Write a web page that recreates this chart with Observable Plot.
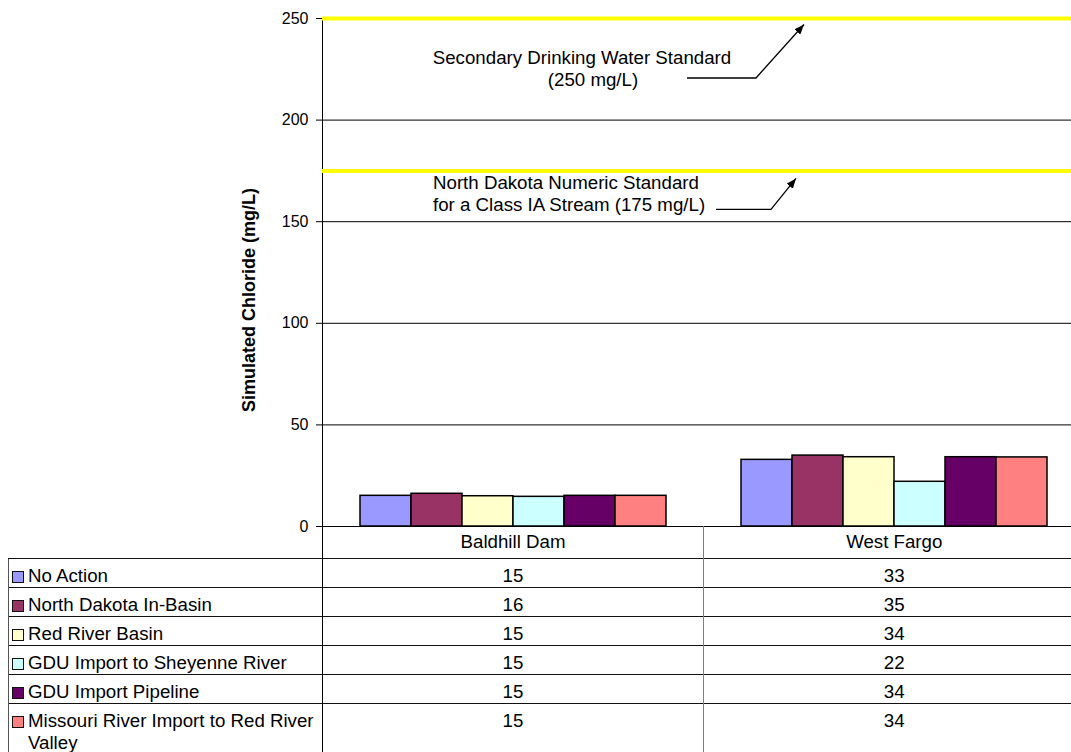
<!DOCTYPE html>
<html><head><meta charset="utf-8">
<script src="https://cdn.jsdelivr.net/npm/d3@7"></script>
<script src="https://cdn.jsdelivr.net/npm/@observablehq/plot@0.6"></script>
<style>
html,body{margin:0;padding:0;overflow:hidden;background:#fff;}
body{width:1071px;height:752px;position:relative;font-family:"Liberation Sans",Arial,sans-serif;color:#000;}
#chart{position:absolute;left:0;top:0;width:1084px;}
#chart g[aria-label^="y-axis tick label"]{font-size:16px;}
#chart g[aria-label^="y-axis tick label"] text{font-size:16px;}
#tbl{position:absolute;left:8px;top:526px;border-collapse:collapse;table-layout:fixed;width:1076px;font-size:18.7px;}
#tbl td{padding:0;line-height:22px;vertical-align:top;}
#tbl tr.head td{height:28px;padding-top:4px;text-align:center;line-height:23px;}
#tbl tr.row td{height:22px;padding-top:6px;border-top:1px solid #111;}
#tbl tr.row td.lab{border-left:1px solid #555;border-right:1px solid #000;text-align:left;}
#tbl td.v1{border-left:1px solid #000;border-right:1px solid #808080;text-align:center;}
#tbl td.v2{text-align:center;}
.lg{display:flex;align-items:flex-start;padding-left:3px;}
.sw{flex:0 0 auto;width:12px;height:12px;box-sizing:border-box;border:1px solid #111;margin-top:6px;margin-right:4px;}
</style>
</head><body>
<div id="chart"></div>
<table id="tbl"><colgroup><col style="width:314px"><col style="width:381px"><col style="width:381px"></colgroup><tbody id="tb"></tbody></table>
<script>
const categories = ["Baldhill Dam", "West Fargo"];
const series = ["No Action", "North Dakota In-Basin", "Red River Basin", "GDU Import to Sheyenne River", "GDU Import Pipeline", "Missouri River Import to Red River Valley"];
const baldhillValues = [15.1, 16.1, 14.9, 14.6, 15.1, 15.1];
const westFargoValues = [32.8, 34.9, 34.1, 22.0, 34.1, 34.0];
const seriesColors = ["#9999FF", "#993366", "#FFFFCC", "#CCFFFF", "#660066", "#FF8080"];
const yTicks = [0, 50, 100, 150, 200, 250];
const gridValues = [50, 100, 150, 200];
const standardValues = [250, 175];
const standardLabels = [["Secondary Drinking Water Standard", "(250 mg/L)"], ["North Dakota Numeric Standard", "for a Class IA Stream (175 mg/L)"]];
const yLabel = "Simulated Chloride (mg/L)";

const valuesByCategory = [baldhillValues, westFargoValues];
const data = categories.flatMap((c, i) => series.map((s, j) => ({category: c, series: s, value: valuesByCategory[i][j]})));

const chart = Plot.plot({
  width: 1084, height: 527,
  marginLeft: 322, marginRight: 0, marginTop: 18, marginBottom: 1,
  style: {fontFamily: "'Liberation Sans', Arial, sans-serif", fontSize: "16px", background: "transparent", overflow: "visible", maxWidth: "none"},
  fx: {domain: categories, padding: 0, axis: null},
  x: {domain: series, paddingInner: 0, paddingOuter: 0.735, axis: null},
  y: {domain: [0, 250], ticks: yTicks, tickSize: 6, tickPadding: 8, line: true, label: null, tickFormat: d => String(d)},
  color: {domain: series, range: seriesColors},
  marks: [
    Plot.ruleY(gridValues, {stroke: "#000", strokeWidth: 1}),
    Plot.ruleY([0], {stroke: "#000", strokeWidth: 1.2}),
    Plot.ruleY(standardValues, {stroke: "#FFFF00", strokeWidth: 4}),
    Plot.barY(data, {fx: "category", x: "series", y: "value", fill: "series", stroke: "#000", strokeWidth: 1.5, inset: 0})
  ]
});
document.getElementById("chart").appendChild(chart);
d3.select(chart).selectAll('g[aria-label^="y-axis tick label"]').attr("font-size", 16)
  .selectAll("text").attr("font-size", 16);

// annotations
const svg = d3.select(chart);
const ys = chart.scale("y");
const defs = svg.append("defs");
defs.append("marker").attr("id", "ah").attr("viewBox", "0 0 10 8").attr("refX", 10).attr("refY", 4)
  .attr("markerWidth", 10).attr("markerHeight", 8).attr("markerUnits", "userSpaceOnUse").attr("orient", "auto")
  .append("path").attr("d", "M0,0L10,4L0,8z").attr("fill", "#000");

const notes = [
  {anchor: "middle", xs: [582, 593], dys: [46, 68], leader: [[687, 60], [756, 60], [804, 6.5]]},
  {anchor: "start", xs: [433, 433], dys: [19, 41], leader: [[716, 39], [771, 39], [796, 8]]}
];
notes.forEach((n, k) => {
  const y0 = ys.apply(standardValues[k]);
  const g = svg.append("g").attr("font-family", "'Liberation Sans', Arial, sans-serif").attr("font-size", 18.7);
  standardLabels[k].forEach((t, i) => {
    g.append("text").attr("x", n.xs[i]).attr("y", y0 + n.dys[i]).attr("text-anchor", n.anchor).attr("fill", "#000").text(t);
  });
  g.append("path")
    .attr("d", d3.line()(n.leader.map(([x, dy]) => [x, y0 + dy])))
    .attr("fill", "none").attr("stroke", "#000").attr("stroke-width", 1.3).attr("marker-end", "url(#ah)");
});

svg.append("text").attr("transform", "translate(255,300) rotate(-90)").attr("text-anchor", "middle")
  .attr("font-family", "'Liberation Sans', Arial, sans-serif").attr("font-size", 18).attr("font-weight", "bold")
  .attr("fill", "#000").text(yLabel);

// data table
const tb = document.getElementById("tb");
let html = `<tr class="head"><td></td><td class="v1">${categories[0]}</td><td class="v2">${categories[1]}</td></tr>`;
series.forEach((s, j) => {
  html += `<tr class="row"><td class="lab"><div class="lg"><span class="sw" style="background:${seriesColors[j]}"></span><span>${s}</span></div></td>` +
    `<td class="v1">${Math.round(baldhillValues[j])}</td><td class="v2">${Math.round(westFargoValues[j])}</td></tr>`;
});
tb.innerHTML = html;
</script>
</body></html>
